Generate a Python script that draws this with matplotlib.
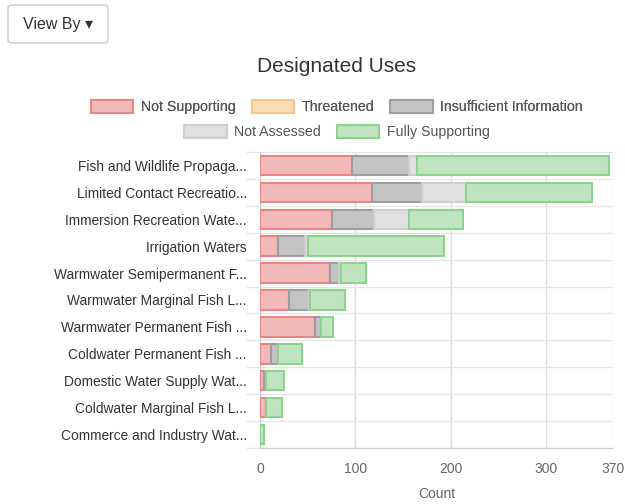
import matplotlib.pyplot as plt
from matplotlib.patches import FancyBboxPatch, Patch
import numpy as np

plt.rcParams['font.family'] = ['Liberation Sans', 'DejaVu Sans']

# Kategorien (von oben nach unten)
categories = ['Fish and Wildlife Propaga...', 'Limited Contact Recreatio...',
              'Immersion Recreation Wate...', 'Irrigation Waters',
              'Warmwater Semipermanent F...', 'Warmwater Marginal Fish L...',
              'Warmwater Permanent Fish ...', 'Coldwater Permanent Fish ...',
              'Domestic Water Supply Wat...', 'Coldwater Marginal Fish L...',
              'Commerce and Industry Wat...']

not_supporting = [96, 117, 75, 19, 73, 30, 58, 12, 4, 6, 0]
threatened = [0, 0, 0, 0, 0, 0, 0, 0, 0, 0, 0]
insufficient = [60, 53, 45, 28, 10, 21, 6, 7, 2, 0, 0]
not_assessed = [9, 46, 36, 3, 2, 1, 0, 0, 0, 0, 0]
fully_supporting = [201, 132, 57, 143, 26, 37, 12, 25, 19, 17, 4]

series = [
    ('Not Supporting', not_supporting, '#f2b9b9', '#e98585'),
    ('Threatened', threatened, '#fadcb4', '#f6c68a'),
    ('Insufficient Information', insufficient, '#c4c4c4', '#9e9e9e'),
    ('Not Assessed', not_assessed, '#e0e0e0', '#cfcfcf'),
    ('Fully Supporting', fully_supporting, '#c0e4c0', '#8fd18f'),
]

fs = 10.2

fig = plt.figure(figsize=(6.25, 5.04), dpi=100)
ax = fig.add_axes([260 / 625, 1 - 448 / 504, 353 / 625, 296 / 504])

y = np.arange(len(categories))
left = np.zeros(len(categories))
handles = []
for name, vals, fc, ec in series:
    vals = np.array(vals, dtype=float)
    ax.barh(y, vals, left=left, height=0.72, color=fc, edgecolor=ec,
            linewidth=1.5, zorder=3)
    left += vals
    handles.append(Patch(facecolor=fc, edgecolor=ec, linewidth=1.5, label=name))

ax.set_ylim(len(categories) - 0.5, -0.5)
ax.set_xlim(0, 370)
ax.set_xticks([0, 100, 200, 300, 370])
ax.set_yticks(y)
ax.set_yticklabels(categories)
ax.set_yticks(np.arange(len(categories) + 1) - 0.5, minor=True)
ax.grid(axis='x', color='#dddddd', linewidth=1, zorder=0)
ax.grid(axis='y', which='minor', color='#e6e6e6', linewidth=1, zorder=0)
ax.tick_params(axis='y', which='major', length=0, labelsize=9.95, colors='#333333', pad=9.5)
ax.tick_params(axis='y', which='minor', length=10, width=1, color='#e6e6e6')
ax.tick_params(axis='x', length=0, labelsize=10, colors='#666666', pad=10)
for s in ['top', 'right']:
    ax.spines[s].set_visible(False)
ax.spines['left'].set_color('#cccccc')
ax.spines['bottom'].set_color('#cccccc')
ax.set_xlabel('Count', fontsize=10, color='#666666', labelpad=8)

fig.text(337 / 625, 1 - 66 / 504, 'Designated Uses', ha='center', va='center',
         fontsize=15, color='#333333')

leg_kw = dict(loc='center', frameon=False, fontsize=fs, handlelength=3.0,
              handleheight=1.0, columnspacing=1.1, handletextpad=0.55,
              labelcolor='#555555')
leg1 = fig.legend(handles=handles[:3], ncol=3,
                  bbox_to_anchor=(337 / 625, 1 - 107 / 504), **leg_kw)
fig.legend(handles=handles[3:], ncol=2,
           bbox_to_anchor=(337 / 625, 1 - 132 / 504), **leg_kw)
fig.add_artist(leg1)

# "View By" Button
btn = FancyBboxPatch((8 / 625, 1 - 43 / 504), 100 / 625, 38 / 504,
                     boxstyle='round,pad=0,rounding_size=0.006',
                     transform=fig.transFigure, facecolor='white',
                     edgecolor='#cccccc', linewidth=1)
fig.add_artist(btn)
fig.text(58 / 625, 1 - 24 / 504, 'View By \u25be', ha='center', va='center',
         fontsize=11.5, color='#333333')

fig.savefig('out.png', dpi=100)
